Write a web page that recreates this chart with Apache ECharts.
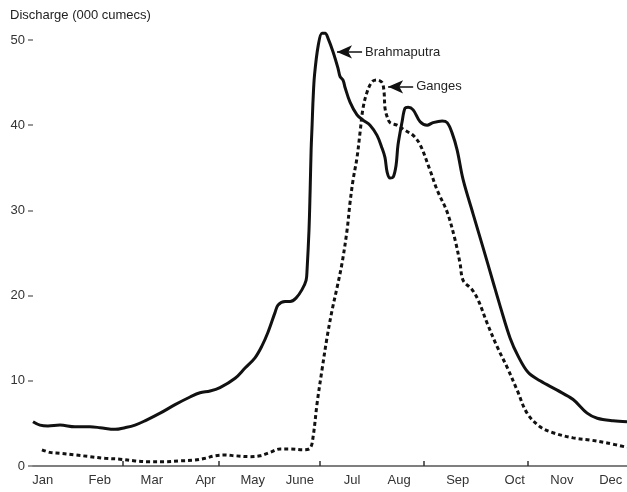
<!DOCTYPE html>
<html>
<head>
<meta charset="utf-8">
<script src="https://cdn.jsdelivr.net/npm/echarts@6/dist/echarts.min.js"></script>
<style>
html,body{margin:0;padding:0;background:#fff;}
#chart{width:627px;height:492px;}
</style>
</head>
<body>
<div id="chart"></div>
<script>
// x values are day of year (0-365), y values are discharge in thousand cumecs
var brahmaputraDays = [
  0, 4.3, 9.2, 16.6, 25.8, 35.0, 41.2, 50.4, 56.5, 62.7,
  68.8, 78.1, 87.3, 96.5, 102.6, 108.8, 114.9, 124.2, 130.3, 136.4,
  140.7, 144.4, 148.7, 150.6, 154.9, 158.0, 161.6, 165.3, 167.8, 168.4,
  169.6, 170.3, 170.9, 171.5, 172.1, 173.0, 175.3, 177.6, 179.5, 181.3,
  184.4, 187.4, 188.7, 190.5, 191.8, 194.8, 199.1, 202.8, 207.1, 211.4,
  214.5, 216.3, 217.6, 219.4, 221.3, 223.1, 224.3, 226.8, 228.6, 230.5,
  233.6, 237.9, 242.2, 245.8, 251.4, 254.5, 257.5, 260.6, 264.3, 270.4,
  276.6, 282.7, 287.0, 293.2, 298.1, 304.2, 311.6, 322.1, 331.9, 340.5,
  346.7, 356.5, 365];
var brahmaputraValues = [
  5.2, 4.8, 4.7, 4.8, 4.6, 4.6, 4.5, 4.3, 4.5, 4.8,
  5.3, 6.2, 7.2, 8.1, 8.6, 8.8, 9.2, 10.3, 11.5, 12.7,
  14.1, 15.7, 18.0, 18.9, 19.3, 19.3, 19.7, 20.7, 21.8, 23.0,
  27.7, 32.4, 37.1, 40.0, 43.0, 45.9, 49.4, 50.8, 50.8, 50.2,
  48.6, 46.7, 45.7, 45.3, 44.4, 42.7, 41.2, 40.6, 40.0, 38.8,
  37.3, 36.2, 34.5, 33.8, 33.9, 35.3, 37.7, 40.4, 42.0, 42.1,
  41.8, 40.4, 40.0, 40.3, 40.5, 40.3, 39.1, 37.1, 33.6, 29.6,
  25.6, 21.6, 18.8, 15.0, 12.9, 11.0, 10.0, 8.9, 7.8, 6.2,
  5.6, 5.3, 5.2];
var gangesDays = [
  5.5, 10.4, 16.6, 25.8, 35.0, 44.3, 53.5, 62.7, 71.9, 81.1,
  90.4, 99.6, 105.7, 111.8, 118.0, 124.2, 133.4, 139.5, 145.7, 151.8,
  158.0, 165.9, 170.3, 172.1, 174.6, 177.6, 180.7, 183.8, 186.9, 189.9,
  193.0, 194.8, 196.7, 199.1, 201.0, 202.8, 205.3, 208.4, 211.4, 214.5,
  215.7, 216.3, 217.6, 219.4, 223.7, 228.6, 233.6, 237.9, 244.0, 248.3,
  254.5, 259.4, 262.4, 264.3, 269.8, 273.5, 279.0, 285.2, 291.3, 297.5,
  303.6, 311.6, 319.6, 331.9, 342.3, 352.8, 365];
var gangesValues = [
  1.9, 1.6, 1.5, 1.3, 1.1, 0.9, 0.8, 0.6, 0.5, 0.5,
  0.6, 0.7, 0.9, 1.2, 1.3, 1.2, 1.1, 1.2, 1.6, 2.0,
  2.0, 1.9, 2.1, 3.4, 7.4, 11.3, 15.1, 18.3, 21.0, 23.8,
  27.7, 30.9, 33.6, 36.2, 39.2, 42.0, 43.9, 45.1, 45.3, 45.0,
  43.9, 42.0, 41.0, 40.3, 40.0, 39.4, 38.8, 37.7, 34.7, 32.4,
  29.8, 26.5, 23.8, 21.8, 20.7, 19.5, 16.8, 14.0, 11.6, 8.9,
  6.2, 4.6, 3.9, 3.3, 3.05, 2.7, 2.2];
var monthLabels = ['Jan','Feb','Mar','Apr','May','June','Jul','Aug','Sep','Oct','Nov','Dec'];
var monthLabelDays = [6,41,73,106,135,164,196,225,261,296,325,355];
var xTickDays = [55,114,176,240,304];
var yTicks = [0,10,20,30,40,50];
var axisTitle = 'Discharge (000 cumecs)';
// annotation arrows: [tipDay, tipValue, tailDay, text]
var annBrahmaputra = [186.8, 48.6, 202.2, 'Brahmaputra'];
var annGanges = [218.2, 44.5, 233.6, 'Ganges'];

function zip(xs, ys){ return xs.map(function(x,i){ return [x, ys[i]]; }); }
var FONT = '"Liberation Sans", Arial, sans-serif';

function arrow(a){
  return {
    silent: true,
    symbol: ['arrow','none'],
    symbolSize: [10,15],
    lineStyle: {color:'#111', width:1.5, type:'solid'},
    label: {show:true, position:'end', formatter:a[3], color:'#222', fontSize:13, fontFamily:FONT, distance:3},
    data: [[{coord:[a[0],a[1]]},{coord:[a[2],a[1]]}]],
    animation: false
  };
}

var chart = echarts.init(document.getElementById('chart'), null, {renderer:'canvas'});
chart.setOption({
  animation: false,
  backgroundColor: '#fff',
  title: {
    text: axisTitle, left: 5, top: 4,
    textStyle: {fontSize:13, fontWeight:'normal', color:'#222', fontFamily:FONT}
  },
  grid: {left:33, right:0, top:40, bottom:26, containLabel:false},
  xAxis: {
    type:'value', min:0, max:365,
    splitLine:{show:false},
    axisLine:{show:true, lineStyle:{color:'#555', width:1.5}},
    axisTick:{show:true, inside:true, length:5, customValues:xTickDays, lineStyle:{color:'#333', width:1.5}},
    axisLabel:{show:true, customValues:monthLabelDays, margin:8, color:'#333', fontSize:13, fontFamily:FONT,
      formatter:function(v){ var i = monthLabelDays.indexOf(v); return i>=0 ? monthLabels[i] : ''; }}
  },
  yAxis: {
    type:'value', min:0, max:50, interval:10,
    splitLine:{show:false},
    axisLine:{show:false},
    axisTick:{show:true, length:5, lineStyle:{color:'#777', width:1.5}},
    axisLabel:{margin:8, color:'#333', fontSize:13, fontFamily:FONT,
      customValues: yTicks}
  },
  series: [
    {
      name:'Brahmaputra', type:'line', data: zip(brahmaputraDays, brahmaputraValues),
      showSymbol:false, symbol:'none', smooth:0.35, clip:false,
      lineStyle:{color:'#111', width:3},
      markLine: arrow(annBrahmaputra)
    },
    {
      name:'Ganges', type:'line', data: zip(gangesDays, gangesValues),
      showSymbol:false, symbol:'none', smooth:0.35, clip:false,
      lineStyle:{color:'#111', width:3, type:[4,3]},
      markLine: arrow(annGanges)
    }
  ]
});
</script>
</body>
</html>
